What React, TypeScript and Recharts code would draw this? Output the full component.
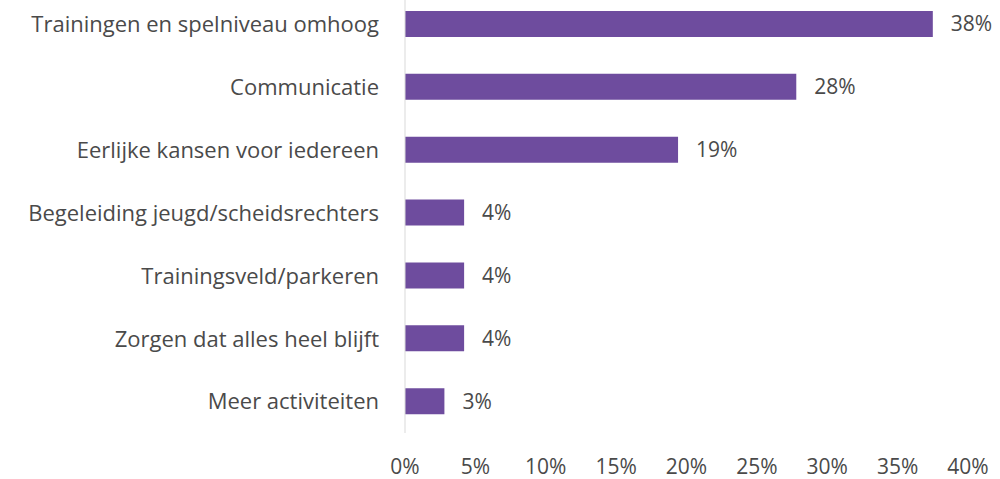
import React from 'react';
import { BarChart, Bar, XAxis, YAxis, LabelList } from 'recharts';

const categories = [
  'Trainingen en spelniveau omhoog',
  'Communicatie',
  'Eerlijke kansen voor iedereen',
  'Begeleiding jeugd/scheidsrechters',
  'Trainingsveld/parkeren',
  'Zorgen dat alles heel blijft',
  'Meer activiteiten',
];
const shares = [37.5, 27.8, 19.4, 4.2, 4.2, 4.2, 2.8];
const xTicks = [0, 5, 10, 15, 20, 25, 30, 35, 40];

const BAR_COLOR = '#6E4C9E';
const TEXT_COLOR = '#4a4a4a';
const FONT = '"Open Sans", "Noto Sans", sans-serif';
const FONT_SIZE = 22;

const App: React.FC = () => {
  const data = categories.map((name, i) => ({ name, value: shares[i] }));

  return (
    <div style={{ position: 'absolute', left: 0, top: 0, fontFamily: FONT }}>
      <BarChart
        width={1000}
        height={479}
        data={data}
        layout="vertical"
        margin={{ top: -7, right: 32, bottom: 0, left: 0 }}
      >
        <XAxis
          type="number"
          domain={[0, 40]}
          ticks={xTicks}
          tickFormatter={(v: number) => `${v}%`}
          axisLine={false}
          tickLine={false}
          tickMargin={20}
          height={46}
          interval={0}
          tick={{ fill: TEXT_COLOR, fontSize: FONT_SIZE - 1, fontFamily: FONT }}
        />
        <YAxis
          type="category"
          dataKey="name"
          width={405}
          axisLine={{ stroke: '#d9d9d9' }}
          tickLine={false}
          tickMargin={20}
          interval={0}
          tick={{ fill: TEXT_COLOR, fontSize: FONT_SIZE, fontFamily: FONT }}
        />
        <Bar dataKey="value" fill={BAR_COLOR} barSize={26} isAnimationActive={false}>
          <LabelList
            dataKey="value"
            position="right"
            offset={18}
            formatter={(v: number) => `${Math.round(v)}%`}
            style={{ fill: TEXT_COLOR, fontSize: FONT_SIZE - 1, fontFamily: FONT }}
          />
        </Bar>
      </BarChart>
    </div>
  );
};

export default App;
